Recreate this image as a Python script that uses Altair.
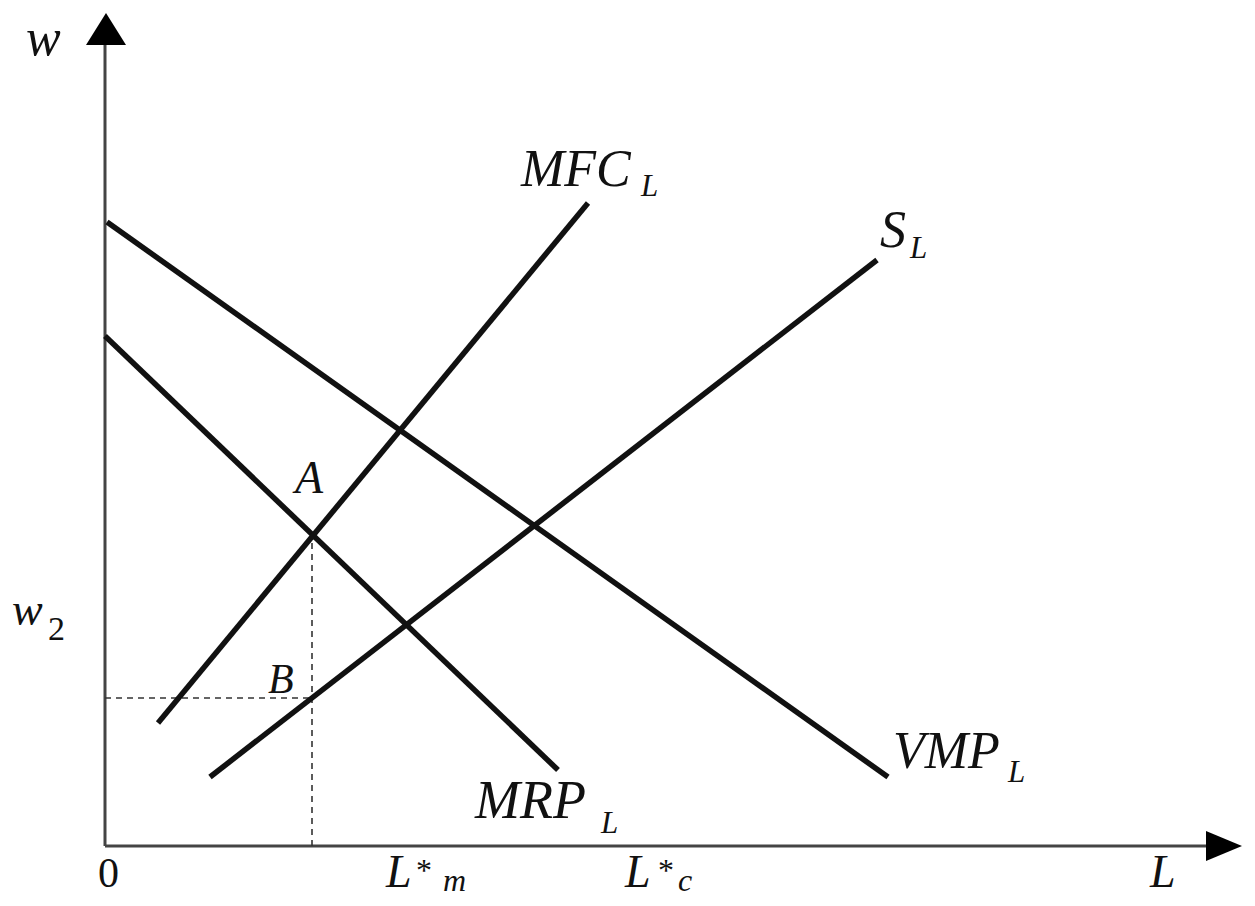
import altair as alt
import pandas as pd

# ---- curve end points (units: L horizontal, w vertical) ----
curve_names = ["VMP", "VMP", "MRP", "MRP", "MFC", "MFC", "S", "S"]
curve_L     = [0.2, 78.3, 0.0, 45.3, 5.3, 48.3, 10.5, 77.2]
curve_w     = [62.4, 6.9, 51.0, 7.6, 12.3, 64.3, 6.9, 58.6]

# ---- key points A and B ----
A_L, A_w = 20.7, 30.6
B_L, B_w = 20.7, 14.8

# ---- axis extents ----
x_axis_end = 111.9
y_axis_end = 80.1

# ---- labels ----
ital_text = ["w", "MFC", "L", "S", "L", "A", "B", "MRP", "L", "VMP", "L", "L",
             "L", "m", "L", "c", "w"]
ital_x    = [-7.9, 41.6, 53.6, 77.5, 80.5, 19.0, 16.3, 37.0, 49.6, 78.8, 90.3, 104.5,
             28.1, 33.8, 52.0, 57.3, -9.3]
ital_y    = [79.1, 66.0, 65.0, 59.9, 58.8, 35.3, 15.3, 2.8, 1.3, 7.8, 6.4, -4.1,
             -4.1, -4.5, -4.1, -4.5, 22.1]
ital_fs   = [52, 52, 31, 52, 31, 46, 42, 54, 31, 52, 31, 46,
             46, 32, 46, 32, 46]

up_text = ["0", "2", "*", "*"]
up_x    = [-0.7, -5.7, 31.1, 55.3]
up_y    = [-4.1, 20.6, -3.5, -3.5]
up_fs   = [42, 34, 32, 32]

curves = pd.DataFrame({"curve": curve_names, "L": curve_L, "w": curve_w})
axes = pd.DataFrame({"x": [0.0, 0.0], "y": [0.0, 0.0],
                     "x2": [x_axis_end, 0.0], "y2": [0.0, y_axis_end]})
dashes = pd.DataFrame({"x": [A_L, 0.0], "y": [0.0, B_w],
                       "x2": [A_L, B_L], "y2": [A_w, B_w]})
arrows = pd.DataFrame({"x": [0.1, x_axis_end], "y": [y_axis_end + 1.6, 0.0],
                       "which": ["up", "right"]})
ital = pd.DataFrame({"t": ital_text, "x": ital_x, "y": ital_y, "fs": ital_fs})
up = pd.DataFrame({"t": up_text, "x": up_x, "y": up_y, "fs": up_fs})

xs = alt.Scale(domain=[-9.7, 114.2], nice=False, zero=False)
ys = alt.Scale(domain=[-5.2, 83.8], nice=False, zero=False)

lines = alt.Chart(curves).mark_line(color="#111111", strokeWidth=5.5).encode(
    x=alt.X("L:Q", scale=xs, axis=None),
    y=alt.Y("w:Q", scale=ys, axis=None),
    detail="curve:N",
)

axis_rules = alt.Chart(axes).mark_rule(color="#444444", strokeWidth=3).encode(
    x=alt.X("x:Q", scale=xs, axis=None), y=alt.Y("y:Q", scale=ys, axis=None),
    x2="x2:Q", y2="y2:Q",
)

dash_rules = alt.Chart(dashes).mark_rule(color="#333333", strokeWidth=1.6,
                                         strokeDash=[6, 5]).encode(
    x=alt.X("x:Q", scale=xs, axis=None), y=alt.Y("y:Q", scale=ys, axis=None),
    x2="x2:Q", y2="y2:Q",
)

up_arrow = alt.Chart(arrows[arrows.which == "up"]).mark_point(
    shape="M0,-1L-1.25,1L1.25,1Z", size=1024, filled=True, color="#000000", opacity=1
).encode(x=alt.X("x:Q", scale=xs, axis=None), y=alt.Y("y:Q", scale=ys, axis=None))

right_arrow = alt.Chart(arrows[arrows.which == "right"]).mark_point(
    shape="M1,0L-1,-0.83L-1,0.83Z", size=1296, filled=True, color="#000000", opacity=1
).encode(x=alt.X("x:Q", scale=xs, axis=None), y=alt.Y("y:Q", scale=ys, axis=None))

ital_labels = alt.Chart(ital).mark_text(
    font="Liberation Serif", fontStyle="italic", align="left",
    baseline="alphabetic", color="#111111"
).encode(
    x=alt.X("x:Q", scale=xs, axis=None), y=alt.Y("y:Q", scale=ys, axis=None),
    text="t:N", size=alt.Size("fs:Q", scale=None, legend=None),
)

up_labels = alt.Chart(up).mark_text(
    font="Liberation Serif", align="left", baseline="alphabetic", color="#111111"
).encode(
    x=alt.X("x:Q", scale=xs, axis=None), y=alt.Y("y:Q", scale=ys, axis=None),
    text="t:N", size=alt.Size("fs:Q", scale=None, legend=None),
)

chart = alt.layer(
    axis_rules, dash_rules, lines, up_arrow, right_arrow, ital_labels, up_labels
).properties(
    width=1239, height=890, autosize=alt.AutoSizeParams(type="none"), padding=0,
    background="white",
).configure_view(stroke=None)

chart.save("out.html", embed_options={"renderer": "svg", "actions": False})
